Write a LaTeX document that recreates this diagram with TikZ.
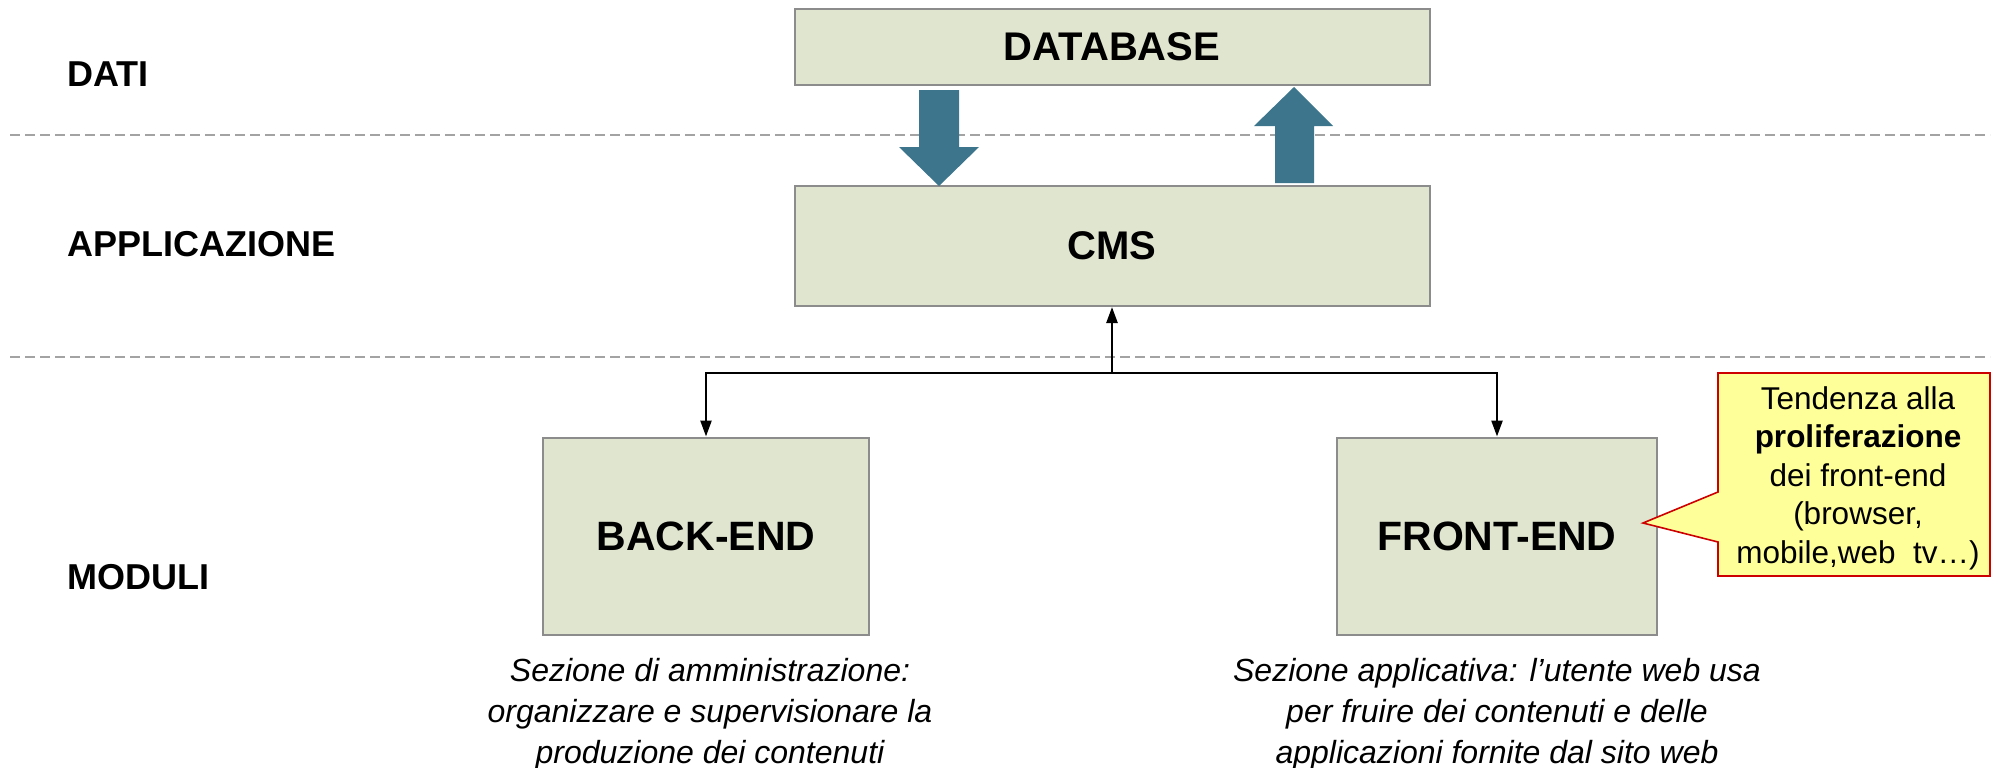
\documentclass[tikz,border=0pt]{standalone}
\usepackage{fontspec}
\setmainfont{Liberation Sans}
\usetikzlibrary{arrows.meta}
\definecolor{boxfill}{HTML}{E0E5CF}
\definecolor{boxline}{HTML}{8C8C8C}
\definecolor{teal}{HTML}{3D758D}
\definecolor{notefill}{HTML}{FFFF99}
\definecolor{notered}{HTML}{CC0000}
\tikzset{
  layerbox/.style={draw=boxline, fill=boxfill, line width=2pt, inner sep=0pt},
  layerlabel/.style={anchor=west, font=\fontsize{36}{40}\selectfont\bfseries},
  sep/.style={draw=boxline!80, line width=1.6pt, dash pattern=on 10pt off 5pt},
  bigarrow/.style={fill=teal, draw=none},
  conn/.style={line width=2.4pt, -{Triangle[length=16pt,width=11pt]}},
  desc/.style={align=center, font=\fontsize{32}{41}\selectfont\itshape},
}
\begin{document}
\begin{tikzpicture}[x=1pt,y=-1pt]
\useasboundingbox (0,0) rectangle (2003,768);
% separators
\draw[sep] (10,135) -- (1990,135);
\draw[sep] (10,357) -- (1990,357);
% layer labels
\node[layerlabel] (ldati) at (64,74) {DATI};
\node[layerlabel] (lapp) at (64,244) {APPLICAZIONE};
\node[layerlabel] (lmod) at (64,577) {MODULI};
% boxes
\node[layerbox, minimum width=635pt, minimum height=76pt, font=\fontsize{40}{44}\selectfont\bfseries] (db) at (1112,47) {DATABASE};
\node[layerbox, minimum width=635pt, minimum height=120pt, font=\fontsize{40}{44}\selectfont\bfseries] (cms) at (1112,246) {CMS};
\node[layerbox, minimum width=326pt, minimum height=197pt, font=\fontsize{41}{45}\selectfont\bfseries] (back) at (706,536) {BACK-END};
\node[layerbox, minimum width=320pt, minimum height=197pt, font=\fontsize{41}{45}\selectfont\bfseries] (front) at (1497,536) {FRONT-END};
% block arrows
\path[bigarrow] (919,90) -- (959,90) -- (959,147) -- (979,147) -- (939,186) -- (899,147) -- (919,147) -- cycle;
\path[bigarrow] (1275,183) -- (1314,183) -- (1314,126) -- (1333,126) -- (1294,87) -- (1254,126) -- (1275,126) -- cycle;
% connectors
\coordinate (j) at (1112,373);
\draw[conn] (j) -- (cms.south);
\draw[conn] (j) -| (back.north);
\draw[conn] (j) -| (front.north);
% descriptions
\node[desc] (dback) at (710,714) {Sezione di amministrazione:\\organizzare e supervisionare la\\produzione dei contenuti};
\node[desc] (dfront) at (1497,714) {Sezione applicativa: l’utente web usa\\per fruire dei contenuti e delle\\applicazioni fornite dal sito web};
% callout
\draw[fill=notefill, draw=notered, line width=1.6pt] (1718,373) -- (1990,373) -- (1990,576) -- (1718,576) -- (1718,542) -- (1643,523) -- (1718,492) -- cycle;
\node[align=center, font=\fontsize{31.5}{38.5}\selectfont] (note) at (1858,478) {Tendenza alla\\\textbf{proliferazione}\\dei front-end\\(browser,\\mobile,web\ \ tv…)};
\end{tikzpicture}
\end{document}
